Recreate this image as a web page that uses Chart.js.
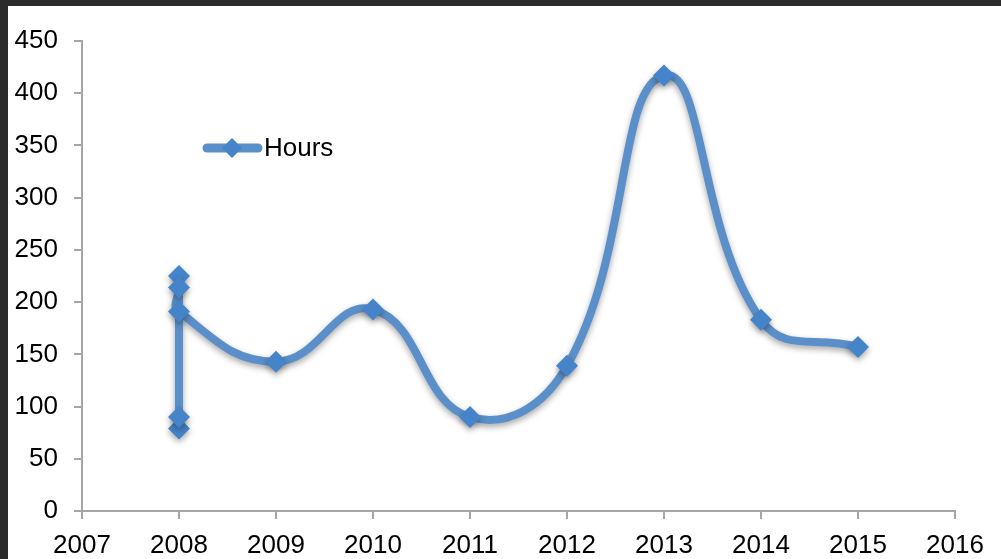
<!DOCTYPE html>
<html>
<head>
<meta charset="utf-8">
<script src="https://cdn.jsdelivr.net/npm/chart.js@4/dist/chart.umd.min.js"></script>
<style>
  html, body { margin: 0; padding: 0; background: #2b2b2b; }
  #wrap { position: absolute; left: 8px; top: 6px; width: 993px; height: 553px; background: #fff; }
</style>
</head>
<body>
<div id="wrap"><canvas id="chart" width="993" height="553"></canvas></div>
<script>
// data
const years = [2008, 2008, 2008, 2008, 2008, 2009, 2010, 2011, 2012, 2013, 2014, 2015];
const hours = [79, 90, 225, 214, 191, 143, 193, 90, 139, 417, 183, 157];
const seriesName = 'Hours';
const yearTicks = [2007, 2016];
const hourTicks = [0, 450, 50];

const lineColor = '#5b8fc9';
const markerColor = '#4584c9';
const axisColor = '#a6a6a6';
const font = { family: 'Liberation Sans, Arial, sans-serif', size: 26 };

const points = years.map((y, i) => ({ x: y, y: hours[i] }));

// soft shadow under the line and markers
const shadowPlugin = {
  id: 'shadow',
  beforeDatasetDraw(chart) {
    const ctx = chart.ctx;
    ctx.save();
    ctx.shadowColor = 'rgba(0,0,0,0.35)';
    ctx.shadowBlur = 6;
    ctx.shadowOffsetY = 3;
  },
  afterDatasetDraw(chart) {
    chart.ctx.restore();
  }
};

// legend sits inside the plot, drawn by hand
const legendPlugin = {
  id: 'innerLegend',
  afterDraw(chart) {
    const ctx = chart.ctx;
    const y = 142;
    ctx.save();
    ctx.strokeStyle = lineColor;
    ctx.lineWidth = 9;
    ctx.lineCap = 'round';
    ctx.beginPath();
    ctx.moveTo(199, y);
    ctx.lineTo(250, y);
    ctx.stroke();
    ctx.fillStyle = markerColor;
    ctx.beginPath();
    ctx.moveTo(224, y - 10);
    ctx.lineTo(234, y);
    ctx.lineTo(224, y + 10);
    ctx.lineTo(214, y);
    ctx.closePath();
    ctx.fill();
    ctx.fillStyle = '#000';
    ctx.font = font.size + 'px ' + font.family;
    ctx.textBaseline = 'middle';
    ctx.fillText(seriesName, 256, y + 1);
    ctx.restore();
  }
};

new Chart(document.getElementById('chart'), {
  type: 'line',
  data: {
    datasets: [{
      label: seriesName,
      data: points,
      borderColor: lineColor,
      borderWidth: 8,
      backgroundColor: markerColor,
      pointBackgroundColor: markerColor,
      pointBorderWidth: 0,
      pointStyle: 'rectRot',
      pointRadius: 11,
      tension: 0.45,
      fill: false
    }]
  },
  options: {
    responsive: false,
    animation: false,
    layout: { padding: { top: 35, right: 46, left: 0, bottom: 0 } },
    plugins: { legend: { display: false }, tooltip: { enabled: false } },
    scales: {
      x: {
        type: 'linear',
        min: yearTicks[0],
        max: yearTicks[1],
        ticks: { stepSize: 1, color: '#000', font, padding: 11, callback: v => String(v) },
        grid: { drawOnChartArea: false, drawTicks: true, tickLength: 8, color: axisColor, lineWidth: 2 },
        border: { color: axisColor, width: 2 },
        afterFit(scale) { scale.height = 48; }
      },
      y: {
        min: hourTicks[0],
        max: hourTicks[1],
        ticks: { stepSize: hourTicks[2], color: '#000', font, padding: 16 },
        grid: { drawOnChartArea: false, drawTicks: true, tickLength: 8, color: axisColor, lineWidth: 2 },
        border: { color: axisColor, width: 2 },
        afterFit(scale) { scale.width = 74; }
      }
    }
  },
  plugins: [shadowPlugin, legendPlugin]
});
</script>
</body>
</html>
